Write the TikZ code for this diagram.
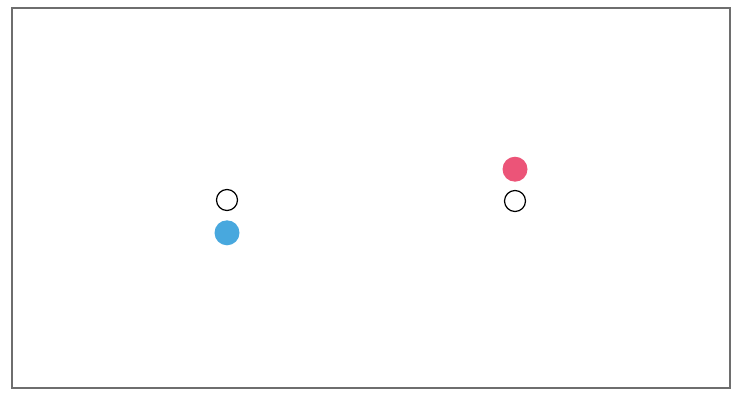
\documentclass[tikz,border=0pt]{standalone}
\usetikzlibrary{positioning}
\definecolor{bc}{RGB}{72,168,222}
\definecolor{pc}{RGB}{236,84,120}
\definecolor{fc}{RGB}{110,110,110}
\tikzset{hollow/.style={circle,draw,line width=1.2pt,minimum size=21pt,inner sep=0pt},
 blob/.style={circle,minimum size=25pt,inner sep=0pt},
 bdot/.style={blob,fill=bc},pdot/.style={blob,fill=pc},
 frame/.style={draw=fc,line width=1.6pt}}

\begin{document}
\begin{tikzpicture}[x=1pt,y=1pt]
\useasboundingbox (0,0) rectangle (743,392);
\draw[frame] (12,384) rectangle (730,4);
\node[hollow] (h1) at (227,192) {};\node[bdot,below=9pt of h1] (b1) {};
\node[hollow] (h2) at (515,191) {};\node[pdot,above=8pt of h2] (p2) {};
\end{tikzpicture}
\end{document}
